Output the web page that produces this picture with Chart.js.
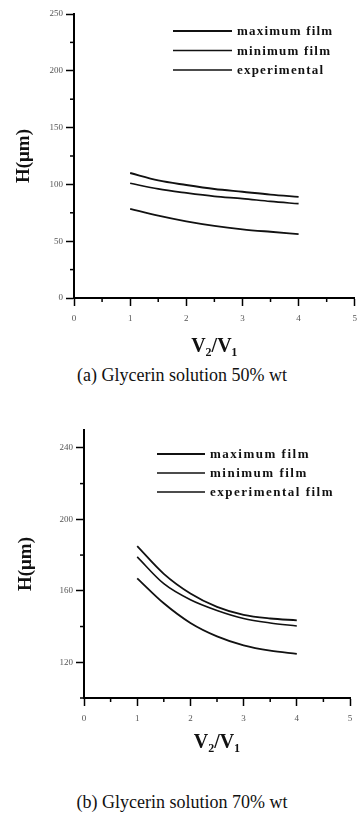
<!DOCTYPE html>
<html>
<head>
<meta charset="utf-8">
<script src="https://cdn.jsdelivr.net/npm/chart.js@4.4.0/dist/chart.umd.min.js"></script>
<style>
  body { margin: 0; background: #fff; width: 364px; height: 815px; position: relative; overflow: hidden; }
  .box { position: absolute; left: 0; width: 364px; }
  .caption { position: absolute; left: 0; width: 364px; text-align: center;
             font-family: "Liberation Serif", serif; font-size: 18px; color: #111; }
</style>
</head>
<body>
<div class="box" style="top:0;height:361px"><canvas id="chart-a"></canvas></div>
<div class="caption" style="top:365px">(a) Glycerin solution 50% wt</div>
<div class="box" style="top:410px;height:347px"><canvas id="chart-b"></canvas></div>
<div class="caption" style="top:792px">(b) Glycerin solution 70% wt</div>
<script>
// V2/V1 values where the curves were read
const ratios = [1, 1.5, 2, 2.5, 3, 3.5, 4];

// (a) glycerin 50% wt, H in micrometres
const maxFilm50 = [110, 103.5, 99.5, 96, 93.5, 91, 89];
const expFilm50 = [101, 96, 92.5, 89.5, 87.5, 85, 83];
const minFilm50 = [78.5, 72.5, 67.5, 63.5, 60.5, 58.3, 56.3];

// (b) glycerin 70% wt
const maxFilm70 = [185, 169.5, 158.5, 151, 146.5, 144.5, 143.5];
const expFilm70 = [179, 164, 155, 149, 144.5, 142, 140.3];
const minFilm70 = [167, 153, 142, 134.5, 129.5, 126.5, 124.7];

// labelled ticks
const xTickLabels = [0, 1, 2, 3, 4, 5];
const yTickLabels50 = [0, 50, 100, 150, 200, 250];
const yTickLabels70 = [120, 160, 200, 240];

const legendNames50 = ['maximum film', 'minimum film', 'experimental'];
const legendNames70 = ['maximum film', 'minimum film', 'experimental film'];

function points(ys) {
    return ratios.map((x, i) => ({x: x, y: ys[i]}));
}

// legend drawn inside the plot area, line then text
const inlineLegend = {
    id: 'inlineLegend',
    afterDraw(chart, args, opts) {
        const ctx = chart.ctx;
        const area = chart.chartArea;
        ctx.save();
        ctx.font = 'bold 13px "Liberation Serif"';
        ctx.letterSpacing = opts.spacing;
        ctx.fillStyle = '#111';
        ctx.textBaseline = 'middle';
        opts.names.forEach((name, i) => {
            const y = area.top + opts.top + i * opts.gap;
            const x0 = area.left + opts.left;
            ctx.strokeStyle = '#111';
            ctx.lineWidth = i === 0 ? 1.8 : 1.4;
            ctx.beginPath();
            ctx.moveTo(x0, y);
            ctx.lineTo(x0 + opts.length, y);
            ctx.stroke();
            ctx.fillText(name, x0 + opts.length + 5, y + 1);
        });
        ctx.restore();
    }
};

// short unlabelled ticks between the labelled ones
const minorTicks = {
    id: 'minorTicks',
    afterDraw(chart, args, opts) {
        const ctx = chart.ctx;
        const xs = chart.scales.x, ys = chart.scales.y;
        ctx.save();
        ctx.strokeStyle = '#000';
        ctx.lineWidth = 1.5;
        xs.ticks.forEach(t => {
            if (xTickLabels.includes(t.value)) return;
            const px = xs.getPixelForValue(t.value);
            ctx.beginPath();
            ctx.moveTo(px, xs.top);
            ctx.lineTo(px, xs.top + 4);
            ctx.stroke();
        });
        ys.ticks.forEach(t => {
            if (opts.yLabels.includes(t.value) || t.value % opts.yStep !== 0) return;
            const py = ys.getPixelForValue(t.value);
            ctx.beginPath();
            ctx.moveTo(ys.right, py);
            ctx.lineTo(ys.right - 4, py);
            ctx.stroke();
        });
        ctx.restore();
    }
};

function lineSet(label, data, width) {
    return {
        label: label,
        data: points(data),
        borderColor: '#111',
        borderWidth: width,
        pointRadius: 0,
        cubicInterpolationMode: 'monotone',
        fill: false
    };
}

function makeChart(id, sets, cfg) {
    return new Chart(document.getElementById(id).getContext('2d'), {
        type: 'line',
        data: { datasets: sets },
        options: {
            responsive: true,
            maintainAspectRatio: false,
            animation: false,
            layout: { padding: { top: cfg.padTop, right: cfg.padRight, left: 0, bottom: 0 } },
            plugins: {
                legend: { display: false },
                tooltip: { enabled: false },
                inlineLegend: cfg.legend,
                minorTicks: { yLabels: cfg.yLabels, yStep: cfg.yStep }
            },
            scales: {
                x: {
                    type: 'linear',
                    min: 0, max: 5,
                    afterFit: s => { s.height = cfg.xHeight; },
                    border: { display: true, color: '#000', width: 2 },
                    grid: {
                        drawOnChartArea: false,
                        tickLength: 8,
                        tickWidth: 1.5,
                        tickColor: c => (c.tick && xTickLabels.includes(c.tick.value)) ? '#000' : 'rgba(0,0,0,0)'
                    },
                    ticks: {
                        stepSize: 0.5,
                        autoSkip: false,
                        maxRotation: 0,
                        padding: 7,
                        color: '#555',
                        font: { family: 'Liberation Serif', size: 9 },
                        callback: v => xTickLabels.includes(v) ? String(v) : ''
                    },
                    title: {
                        display: true,
                        text: 'V\u2082/V\u2081',
                        color: '#111',
                        font: { family: 'Liberation Serif', size: 20, weight: 'bold' },
                        padding: { top: 0, bottom: 2 }
                    }
                },
                y: {
                    min: cfg.yMin, max: cfg.yMax,
                    afterFit: s => { s.width = cfg.yWidth; },
                    border: { display: true, color: '#000', width: 2 },
                    grid: {
                        drawOnChartArea: false,
                        tickLength: 8,
                        tickWidth: 1.5,
                        tickColor: c => (c.tick && cfg.yLabels.includes(c.tick.value)) ? '#000' : 'rgba(0,0,0,0)'
                    },
                    ticks: {
                        stepSize: cfg.yStep,
                        autoSkip: false,
                        padding: 3,
                        color: '#555',
                        font: { family: 'Liberation Serif', size: 9 },
                        callback: v => cfg.yLabels.includes(v) ? String(v) : ''
                    },
                    title: {
                        display: true,
                        text: 'H(\u03bcm)',
                        color: '#111',
                        font: { family: 'Liberation Serif', size: 19, weight: 'bold' },
                        padding: { top: cfg.yTitlePad, bottom: 0 }
                    }
                }
            }
        },
        plugins: [inlineLegend, minorTicks]
    });
}

const chart50 = makeChart('chart-a', [
    lineSet(legendNames50[0], maxFilm50, 1.9),
    lineSet(legendNames50[1], minFilm50, 1.8),
    lineSet(legendNames50[2], expFilm50, 1.7)
], {
    padTop: 14, padRight: 4, xHeight: 63, yWidth: 74, yTitlePad: 13,
    yMin: 0, yMax: 250, yStep: 25, yLabels: yTickLabels50,
    legend: { names: legendNames50, left: 99, top: 17, gap: 19.5, length: 59, spacing: '1.2px' }
});

const chart70 = makeChart('chart-b', [
    lineSet(legendNames70[0], maxFilm70, 1.8),
    lineSet(legendNames70[1], minFilm70, 1.8),
    lineSet(legendNames70[2], expFilm70, 1.6)
], {
    padTop: 20, padRight: 14, xHeight: 59, yWidth: 84, yTitlePad: 15,
    yMin: 100, yMax: 250, yStep: 20, yLabels: yTickLabels70,
    legend: { names: legendNames70, left: 73, top: 24, gap: 19, length: 48, spacing: '1.5px' }
});
</script>
</body>
</html>
